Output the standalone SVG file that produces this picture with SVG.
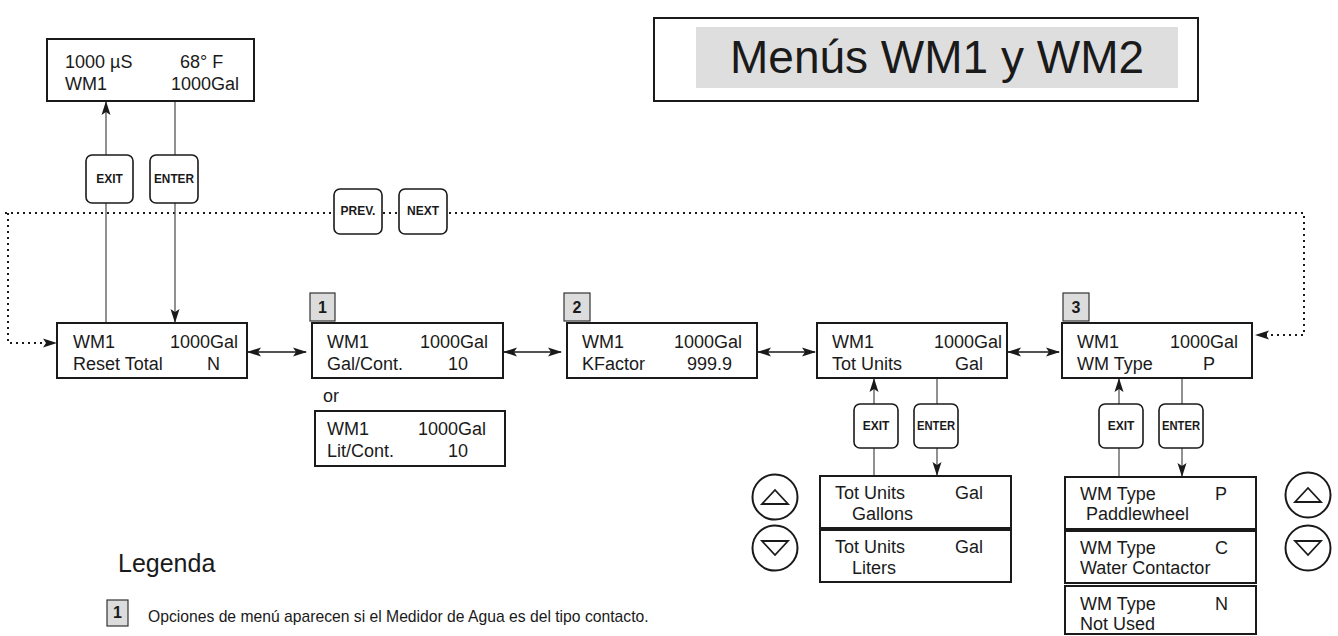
<svg xmlns="http://www.w3.org/2000/svg" width="1338" height="636" viewBox="0 0 1338 636">
<defs>
<style>
text{font-family:"Liberation Sans",Arial,Helvetica,sans-serif;fill:#1a1a1a}
.t{font-size:18px}
.box{fill:#fff;stroke:#1a1a1a;stroke-width:2}
.btn{fill:#fff;stroke:#1a1a1a;stroke-width:1.6}
.bt{font-size:12px;font-weight:bold;text-anchor:middle}
.badge{fill:#dcdcdc;stroke:#333;stroke-width:1.2}
.bn{font-size:16px;font-weight:bold;text-anchor:middle}
.ln{stroke:#555;stroke-width:1.3;fill:none}
.dot{stroke:#1a1a1a;stroke-width:2;fill:none;stroke-dasharray:2 4}
.dbl{stroke:#1a1a1a;stroke-width:1.3;fill:none}
.circ{fill:#fff;stroke:#1a1a1a;stroke-width:2}
.tri{fill:none;stroke:#1a1a1a;stroke-width:1.8;stroke-linejoin:miter}
</style>
<marker id="ah" markerWidth="14" markerHeight="10" refX="13" refY="5" orient="auto-start-reverse" markerUnits="userSpaceOnUse">
<path d="M0,0.5 L14,5 L0,9.5 L3,5 z" fill="#1a1a1a"/>
</marker>
</defs>

<g id="connectors">
<path class="dot" d="M5,213 H1304 V335 H1256" marker-end="url(#ah)"/>
<path class="dot" d="M8,213 V343 H56" marker-end="url(#ah)"/>
<line class="ln" x1="106" y1="323" x2="106" y2="203"/>
<line class="ln" x1="106" y1="155" x2="106" y2="102" marker-end="url(#ah)"/>
<line class="ln" x1="175" y1="101" x2="175" y2="155"/>
<line class="ln" x1="175" y1="203" x2="175" y2="322" marker-end="url(#ah)"/>
<line class="dbl" x1="248" y1="352" x2="306" y2="352" marker-start="url(#ah)" marker-end="url(#ah)"/>
<line class="dbl" x1="504" y1="352" x2="561" y2="352" marker-start="url(#ah)" marker-end="url(#ah)"/>
<line class="dbl" x1="758" y1="352" x2="815" y2="352" marker-start="url(#ah)" marker-end="url(#ah)"/>
<line class="dbl" x1="1008" y1="352" x2="1059" y2="352" marker-start="url(#ah)" marker-end="url(#ah)"/>
<line class="ln" x1="874" y1="404" x2="874" y2="379" marker-end="url(#ah)"/>
<line class="ln" x1="874" y1="448" x2="874" y2="476"/>
<line class="ln" x1="937" y1="378" x2="937" y2="404"/>
<line class="ln" x1="937" y1="448" x2="937" y2="475" marker-end="url(#ah)"/>
<line class="ln" x1="1119" y1="404" x2="1119" y2="379" marker-end="url(#ah)"/>
<line class="ln" x1="1119" y1="448" x2="1119" y2="477"/>
<line class="ln" x1="1182" y1="378" x2="1182" y2="404"/>
<line class="ln" x1="1182" y1="448" x2="1182" y2="476" marker-end="url(#ah)"/>
</g>

<g id="title">
<rect class="box" x="654" y="18" width="544" height="83"/>
<rect x="696" y="27" width="482" height="61" fill="#dedede"/>
<text x="730" y="73" font-size="46">Menús WM1 y WM2</text>
</g>

<g id="main-display">
<rect class="box" x="47" y="39" width="207" height="62"/>
<text class="t" x="65" y="68">1000 µS</text>
<text class="t" x="180" y="68">68° F</text>
<text class="t" x="65" y="90">WM1</text>
<text class="t" x="239" y="90" text-anchor="end">1000Gal</text>
</g>

<g id="btn-exit-top"><rect class="btn" x="86" y="155" width="47" height="48" rx="6"/><text class="bt" x="109.5" y="183">EXIT</text></g>
<g id="btn-enter-top"><rect class="btn" x="150" y="155" width="48" height="48" rx="6"/><text class="bt" x="174" y="183" textLength="40" lengthAdjust="spacingAndGlyphs">ENTER</text></g>
<g id="btn-prev"><rect class="btn" x="334" y="189" width="48" height="45" rx="6"/><text class="bt" x="358" y="215">PREV.</text></g>
<g id="btn-next"><rect class="btn" x="399" y="189" width="48" height="45" rx="6"/><text class="bt" x="423" y="215">NEXT</text></g>

<g id="reset-total">
<rect class="box" x="57" y="323" width="190" height="55"/>
<text class="t" x="73" y="348">WM1</text>
<text class="t" x="238" y="348" text-anchor="end">1000Gal</text>
<text class="t" x="73" y="370">Reset Total</text>
<text class="t" x="207" y="370">N</text>
</g>

<g id="gal-cont">
<rect class="badge" x="310" y="293" width="25" height="28"/>
<text class="bn" x="322.5" y="313">1</text>
<rect class="box" x="312" y="323" width="191" height="55"/>
<text class="t" x="327" y="348">WM1</text>
<text class="t" x="488" y="348" text-anchor="end">1000Gal</text>
<text class="t" x="327" y="370">Gal/Cont.</text>
<text class="t" x="448" y="370">10</text>
<text class="t" x="323" y="402">or</text>
</g>

<g id="lit-cont">
<rect class="box" x="315" y="411" width="190" height="55"/>
<text class="t" x="327" y="435">WM1</text>
<text class="t" x="486" y="435" text-anchor="end">1000Gal</text>
<text class="t" x="327" y="457">Lit/Cont.</text>
<text class="t" x="448" y="457">10</text>
</g>

<g id="kfactor">
<rect class="badge" x="564" y="293" width="26" height="28"/>
<text class="bn" x="577" y="313">2</text>
<rect class="box" x="567" y="323" width="190" height="55"/>
<text class="t" x="582" y="348">WM1</text>
<text class="t" x="742" y="348" text-anchor="end">1000Gal</text>
<text class="t" x="582" y="370">KFactor</text>
<text class="t" x="687" y="370">999.9</text>
</g>

<g id="tot-units">
<rect class="box" x="817" y="323" width="190" height="55"/>
<text class="t" x="832" y="348">WM1</text>
<text class="t" x="1002" y="348" text-anchor="end">1000Gal</text>
<text class="t" x="832" y="370">Tot Units</text>
<text class="t" x="955" y="370">Gal</text>
</g>

<g id="wm-type">
<rect class="badge" x="1063" y="293" width="26" height="28"/>
<text class="bn" x="1076" y="313">3</text>
<rect class="box" x="1062" y="323" width="190" height="55"/>
<text class="t" x="1077" y="348">WM1</text>
<text class="t" x="1238" y="348" text-anchor="end">1000Gal</text>
<text class="t" x="1077" y="370">WM Type</text>
<text class="t" x="1203" y="370">P</text>
</g>

<g id="btn-exit-tot"><rect class="btn" x="854" y="404" width="44" height="44" rx="6"/><text class="bt" x="876" y="430">EXIT</text></g>
<g id="btn-enter-tot"><rect class="btn" x="914" y="404" width="44" height="44" rx="6"/><text class="bt" x="936" y="430" textLength="38" lengthAdjust="spacingAndGlyphs">ENTER</text></g>
<g id="btn-exit-wm"><rect class="btn" x="1099" y="404" width="44" height="44" rx="6"/><text class="bt" x="1121" y="430">EXIT</text></g>
<g id="btn-enter-wm"><rect class="btn" x="1159" y="404" width="44" height="44" rx="6"/><text class="bt" x="1181" y="430" textLength="38" lengthAdjust="spacingAndGlyphs">ENTER</text></g>

<g id="tot-gallons">
<rect class="box" x="820" y="476" width="191" height="52"/>
<text class="t" x="835" y="499">Tot Units</text>
<text class="t" x="955" y="499">Gal</text>
<text class="t" x="852" y="520">Gallons</text>
</g>
<g id="tot-liters">
<rect class="box" x="820" y="530" width="191" height="52"/>
<text class="t" x="835" y="553">Tot Units</text>
<text class="t" x="955" y="553">Gal</text>
<text class="t" x="852" y="574">Liters</text>
</g>

<g id="wm-paddle">
<rect class="box" x="1065" y="477" width="191" height="52"/>
<text class="t" x="1080" y="500">WM Type</text>
<text class="t" x="1215" y="500">P</text>
<text class="t" x="1086" y="520">Paddlewheel</text>
</g>
<g id="wm-contactor">
<rect class="box" x="1065" y="531" width="191" height="52"/>
<text class="t" x="1080" y="554">WM Type</text>
<text class="t" x="1215" y="554">C</text>
<text class="t" x="1080" y="574">Water Contactor</text>
</g>
<g id="wm-notused">
<rect class="box" x="1065" y="586" width="191" height="48"/>
<text class="t" x="1080" y="610">WM Type</text>
<text class="t" x="1215" y="610">N</text>
<text class="t" x="1080" y="630">Not Used</text>
</g>

<g id="updown-left">
<circle class="circ" cx="775" cy="497" r="22.5"/>
<path class="tri" d="M762,504 L788,504 L775,490 z"/>
<circle class="circ" cx="775" cy="548" r="22.5"/>
<path class="tri" d="M762,541 L788,541 L775,555 z"/>
</g>
<g id="updown-right">
<circle class="circ" cx="1308" cy="495" r="22.5"/>
<path class="tri" d="M1295,502 L1321,502 L1308,488 z"/>
<circle class="circ" cx="1308" cy="548" r="22.5"/>
<path class="tri" d="M1295,541 L1321,541 L1308,555 z"/>
</g>

<g id="legend">
<text x="118" y="572" font-size="25">Legenda</text>
<rect class="badge" x="107" y="600" width="21" height="26"/>
<text class="bn" x="117.5" y="618" font-size="14">1</text>
<text x="148" y="622" font-size="15.7">Opciones de menú aparecen si el Medidor de Agua es del tipo contacto.</text>
</g>
</svg>
